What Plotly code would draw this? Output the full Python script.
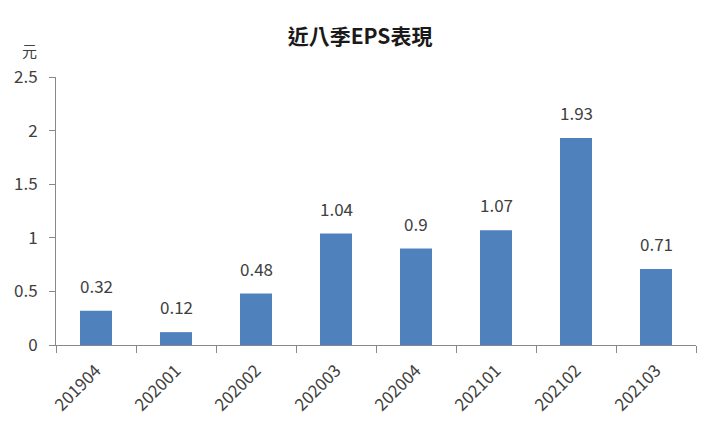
import plotly.graph_objects as go

quarters = ["201904", "202001", "202002", "202003", "202004", "202101", "202102", "202103"]
eps = [0.32, 0.12, 0.48, 1.04, 0.9, 1.07, 1.93, 0.71]
eps_labels = ["0.32", "0.12", "0.48", "1.04", "0.9", "1.07", "1.93", "0.71"]

font_name = "Noto Sans CJK TC"
text_color = "#404040"

fig = go.Figure(go.Bar(
    x=quarters, y=eps,
    marker=dict(color="#4F81BD", line=dict(width=0)),
    width=0.4,
))

# value labels sit a bit above each bar (x as category index, the names look numeric)
labels = [dict(x=i, y=v, text=t, showarrow=False, xanchor="center", yanchor="bottom", yshift=11,
               font=dict(size=17, color=text_color))
          for i, (v, t) in enumerate(zip(eps, eps_labels))]
labels.append(dict(text="元", x=-0.041, y=1.10, xref="paper", yref="paper", showarrow=False,
                   font=dict(size=15, color=text_color), xanchor="center", yanchor="middle"))

fig.update_layout(
    width=720, height=432,
    margin=dict(l=48, r=32, t=69, b=95),
    paper_bgcolor="white", plot_bgcolor="white",
    font=dict(family=font_name, color=text_color, size=17),
    showlegend=False,
    title=dict(text="<b>近八季EPS表現</b>", x=0.489, xanchor="center", y=0.933, yanchor="middle",
               font=dict(size=21, color="#1a1a1a")),
    xaxis=dict(type="category", tickangle=-45, showline=True, linecolor="#888888", linewidth=1,
               range=[-0.5, len(quarters) - 0.5],
               ticks="outside", tickson="boundaries", ticklen=7, tickcolor="#888888",
               showgrid=False, automargin=False, ticklabelstandoff=8,
               tickfont=dict(size=17, color=text_color)),
    yaxis=dict(range=[0, 2.5], dtick=0.5, showline=True, linecolor="#888888", linewidth=1,
               ticks="outside", ticklen=6, tickcolor="#888888", showgrid=False, zeroline=False,
               automargin=False, tickformat="~g", ticklabelstandoff=8,
               tickfont=dict(size=17, color=text_color)),
    annotations=labels,
)

fig.write_html("out.html")
